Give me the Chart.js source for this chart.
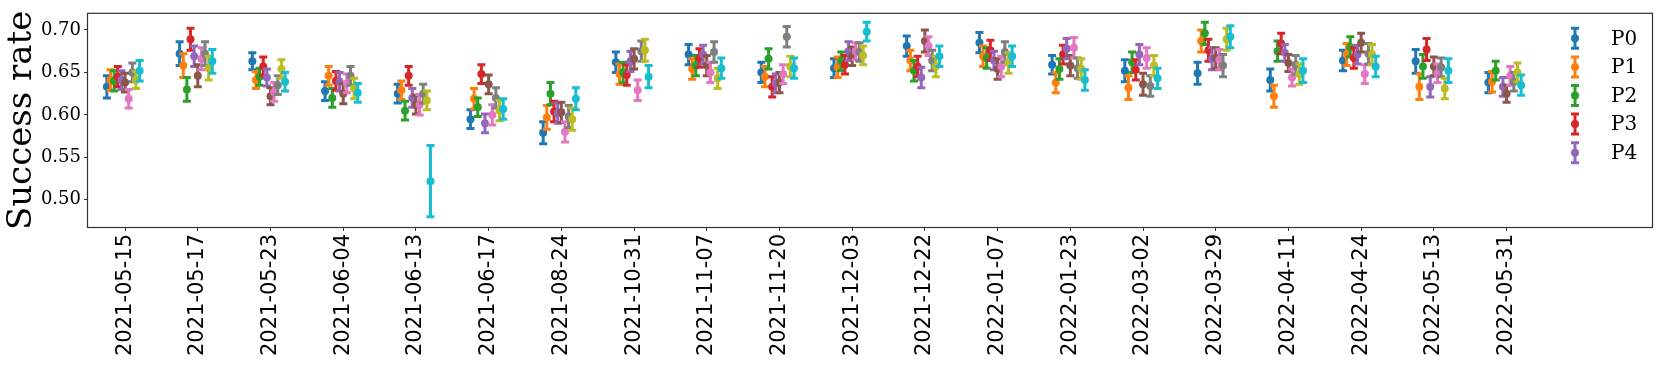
<!DOCTYPE html>
<html>
<head>
<meta charset="utf-8">
<script src="https://cdn.jsdelivr.net/npm/chart.js@4.4.1/dist/chart.umd.min.js"></script>
<style>
    html, body { margin: 0; padding: 0; background: #fff; }
    #wrap { width: 1661px; height: 369px; }
</style>
</head>
<body>
<div id="wrap"><canvas id="chart" width="1661" height="369"></canvas></div>
<script>
// Dates sur l'axe x
const dates = ['2021-05-15', '2021-05-17', '2021-05-23', '2021-06-04', '2021-06-13',
    '2021-06-17', '2021-08-24', '2021-10-31', '2021-11-07', '2021-11-20',
    '2021-12-03', '2021-12-22', '2022-01-07', '2022-01-23', '2022-03-02',
    '2022-03-29', '2022-04-11', '2022-04-24', '2022-05-13', '2022-05-31'];

const seriesNames = ['P0', 'P1', 'P2', 'P3', 'P4', 'P5', 'P6', 'P7', 'P8', 'P9'];
const colors = ['#1f77b4', '#ff7f0e', '#2ca02c', '#d62728', '#9467bd',
    '#8c564b', '#e377c2', '#7f7f7f', '#bcbd22', '#17becf'];
const yTicks = [0.50, 0.55, 0.60, 0.65, 0.70];
const legendCount = 5;

// Taux de succès par série
const p0 = [0.633, 0.672, 0.663, 0.628, 0.625, 0.595, 0.579, 0.662, 0.671, 0.650, 0.655, 0.681, 0.685, 0.659, 0.652, 0.649, 0.641, 0.664, 0.663, 0.638];
const p1 = [0.641, 0.658, 0.641, 0.646, 0.629, 0.619, 0.597, 0.648, 0.654, 0.645, 0.656, 0.664, 0.669, 0.638, 0.632, 0.687, 0.622, 0.671, 0.633, 0.639];
const p2 = [0.640, 0.630, 0.645, 0.620, 0.605, 0.609, 0.625, 0.650, 0.658, 0.666, 0.663, 0.652, 0.667, 0.654, 0.662, 0.696, 0.675, 0.680, 0.657, 0.652];
const p3 = [0.645, 0.689, 0.657, 0.640, 0.646, 0.648, 0.604, 0.647, 0.667, 0.633, 0.659, 0.657, 0.676, 0.671, 0.653, 0.676, 0.684, 0.667, 0.677, null];
const p4 = [0.641, 0.669, 0.644, 0.639, 0.620, 0.590, 0.602, 0.663, 0.671, 0.637, 0.675, 0.644, 0.664, 0.678, 0.671, 0.666, 0.673, 0.671, 0.633, 0.633];
const p5 = [0.638, 0.646, 0.622, 0.625, 0.612, 0.636, 0.603, 0.666, 0.658, 0.638, 0.669, 0.687, 0.654, 0.658, 0.636, 0.667, 0.661, 0.685, 0.657, 0.625];
const p6 = [0.619, 0.666, 0.627, 0.637, 0.612, 0.600, 0.580, 0.629, 0.650, 0.648, 0.675, 0.681, 0.657, 0.679, 0.667, 0.665, 0.644, 0.648, 0.649, 0.646];
const p7 = [0.650, 0.672, 0.635, 0.646, 0.625, 0.620, 0.598, 0.675, 0.674, 0.692, 0.674, 0.664, 0.674, 0.655, 0.634, 0.658, 0.659, 0.672, 0.656, 0.639];
const p8 = [0.641, 0.655, 0.654, 0.631, 0.617, 0.605, 0.595, 0.676, 0.643, 0.657, 0.670, 0.657, 0.661, 0.654, 0.658, 0.689, 0.648, 0.671, 0.631, 0.650];
const p9 = [0.652, 0.663, 0.639, 0.626, 0.522, 0.607, 0.619, 0.645, 0.655, 0.655, 0.698, 0.669, 0.669, 0.641, 0.643, 0.692, 0.652, 0.657, 0.652, 0.635];

// Demi-largeurs des barres d'erreur
const p0Err = [0.013, 0.014, 0.010, 0.011, 0.011, 0.011, 0.013, 0.012, 0.012, 0.012, 0.011, 0.012, 0.012, 0.011, 0.013, 0.013, 0.013, 0.012, 0.014, 0.012];
const p1Err = [0.012, 0.014, 0.010, 0.011, 0.011, 0.012, 0.014, 0.012, 0.012, 0.012, 0.012, 0.012, 0.012, 0.012, 0.014, 0.013, 0.013, 0.013, 0.015, 0.012];
const p2Err = [0.012, 0.014, 0.010, 0.011, 0.011, 0.011, 0.013, 0.012, 0.012, 0.012, 0.011, 0.012, 0.012, 0.012, 0.012, 0.013, 0.012, 0.012, 0.014, 0.011];
const p3Err = [0.012, 0.013, 0.011, 0.011, 0.011, 0.011, 0.012, 0.012, 0.011, 0.012, 0.011, 0.012, 0.012, 0.011, 0.012, 0.013, 0.012, 0.012, 0.013, null];
const p4Err = [0.011, 0.012, 0.010, 0.011, 0.011, 0.011, 0.012, 0.012, 0.011, 0.011, 0.011, 0.012, 0.011, 0.012, 0.012, 0.013, 0.010, 0.011, 0.012, 0.011];
const p5Err = [0.011, 0.013, 0.010, 0.012, 0.011, 0.011, 0.012, 0.012, 0.012, 0.012, 0.011, 0.013, 0.012, 0.012, 0.013, 0.012, 0.010, 0.011, 0.011, 0.010];
const p6Err = [0.011, 0.013, 0.011, 0.011, 0.012, 0.012, 0.012, 0.012, 0.012, 0.011, 0.010, 0.011, 0.012, 0.012, 0.012, 0.012, 0.010, 0.011, 0.011, 0.011];
const p7Err = [0.011, 0.014, 0.011, 0.011, 0.011, 0.012, 0.013, 0.012, 0.012, 0.012, 0.011, 0.012, 0.012, 0.012, 0.012, 0.013, 0.011, 0.012, 0.011, 0.011];
const p8Err = [0.010, 0.014, 0.011, 0.012, 0.011, 0.012, 0.013, 0.013, 0.012, 0.012, 0.011, 0.012, 0.012, 0.012, 0.012, 0.013, 0.012, 0.012, 0.012, 0.011];
const p9Err = [0.012, 0.014, 0.011, 0.011, 0.042, 0.012, 0.013, 0.013, 0.012, 0.012, 0.011, 0.012, 0.012, 0.012, 0.012, 0.013, 0.014, 0.012, 0.014, 0.012];

const seriesValues = [p0, p1, p2, p3, p4, p5, p6, p7, p8, p9];
const seriesErrors = [p0Err, p1Err, p2Err, p3Err, p4Err, p5Err, p6Err, p7Err, p8Err, p9Err];

const BAR_WIDTH = 3;
const CAP_HALF = 4;

function drawErrorBar(ctx, x, yTop, yBottom, color) {
    ctx.strokeStyle = color;
    ctx.lineWidth = BAR_WIDTH;
    ctx.beginPath();
    ctx.moveTo(x, yTop);
    ctx.lineTo(x, yBottom);
    ctx.moveTo(x - CAP_HALF, yTop);
    ctx.lineTo(x + CAP_HALF, yTop);
    ctx.moveTo(x - CAP_HALF, yBottom);
    ctx.lineTo(x + CAP_HALF, yBottom);
    ctx.stroke();
}

// Barres d'erreur, dessinées série par série
const errorBarsPlugin = {
    id: 'errorBars',
    afterDatasetDraw(chart, args) {
        const i = args.index;
        const ctx = chart.ctx;
        const yScale = chart.scales.y;
        ctx.save();
        args.meta.data.forEach((pt, j) => {
            const v = seriesValues[i][j];
            const e = seriesErrors[i][j];
            if (v == null) return;
            drawErrorBar(ctx, pt.x, yScale.getPixelForValue(v + e),
                yScale.getPixelForValue(v - e), colors[i]);
        });
        ctx.restore();
    }
};

// Cadre + légende (style matplotlib)
const framePlugin = {
    id: 'frameLegend',
    afterDraw(chart) {
        const ctx = chart.ctx;
        const a = chart.chartArea;
        ctx.save();
        ctx.strokeStyle = '#333';
        ctx.lineWidth = 1.2;
        ctx.strokeRect(a.left - 0.5, a.top - 0.5, a.right - a.left + 1, a.bottom - a.top + 1);

        for (let k = 0; k < legendCount; k++) {
            const y = a.top + 24.5 + k * 28.6;
            const x = a.right - 77;
            drawErrorBar(ctx, x, y - 10, y + 10, colors[k]);
            ctx.fillStyle = colors[k];
            ctx.beginPath();
            ctx.arc(x, y, 4, 0, Math.PI * 2);
            ctx.fill();
            ctx.fillStyle = '#000';
            ctx.font = '20px "DejaVu Serif"';
            ctx.textBaseline = 'middle';
            ctx.textAlign = 'left';
            ctx.fillText(seriesNames[k], a.right - 41, y + 1);
        }
        ctx.restore();
    }
};

const datasets = seriesNames.map((name, i) => ({
    label: name,
    data: seriesValues[i].map((v, j) => ({ x: j + (i - 5) * 0.05, y: v })),
    backgroundColor: colors[i],
    borderColor: colors[i],
    pointRadius: 4,
    pointBorderWidth: 0,
    order: seriesNames.length - i
}));

new Chart(document.getElementById('chart'), {
    type: 'scatter',
    data: { datasets: datasets },
    options: {
        responsive: false,
        animation: false,
        layout: { padding: { top: 8, right: 9, left: 0, bottom: 0 } },
        plugins: {
            legend: { display: false },
            tooltip: { enabled: false }
        },
        scales: {
            x: {
                type: 'linear',
                min: -0.51,
                max: 21,
                afterBuildTicks: scale => {
                    scale.ticks = dates.map((d, i) => ({ value: i }));
                },
                afterFit: scale => { scale.height = 142; },
                ticks: {
                    callback: value => dates[value],
                    autoSkip: false,
                    minRotation: 90,
                    maxRotation: 90,
                    padding: 3,
                    color: '#000',
                    font: { family: 'DejaVu Sans', size: 21 }
                },
                grid: { drawOnChartArea: false, tickLength: 4, color: '#333', tickWidth: 1 },
                border: { display: false }
            },
            y: {
                min: 0.468,
                max: 0.719,
                afterBuildTicks: scale => {
                    scale.ticks = yTicks.map(v => ({ value: v }));
                },
                afterFit: scale => { scale.width = 88; },
                ticks: {
                    callback: value => value.toFixed(2),
                    padding: 3,
                    color: '#000',
                    font: { family: 'DejaVu Serif', size: 18 }
                },
                title: {
                    display: true,
                    text: 'Success rate',
                    color: '#000',
                    font: { family: 'DejaVu Serif', size: 34 },
                    padding: { top: 2, bottom: 0 }
                },
                grid: { drawOnChartArea: false, tickLength: 4, color: '#333', tickWidth: 1 },
                border: { display: false }
            }
        }
    },
    plugins: [errorBarsPlugin, framePlugin]
});
</script>
</body>
</html>
